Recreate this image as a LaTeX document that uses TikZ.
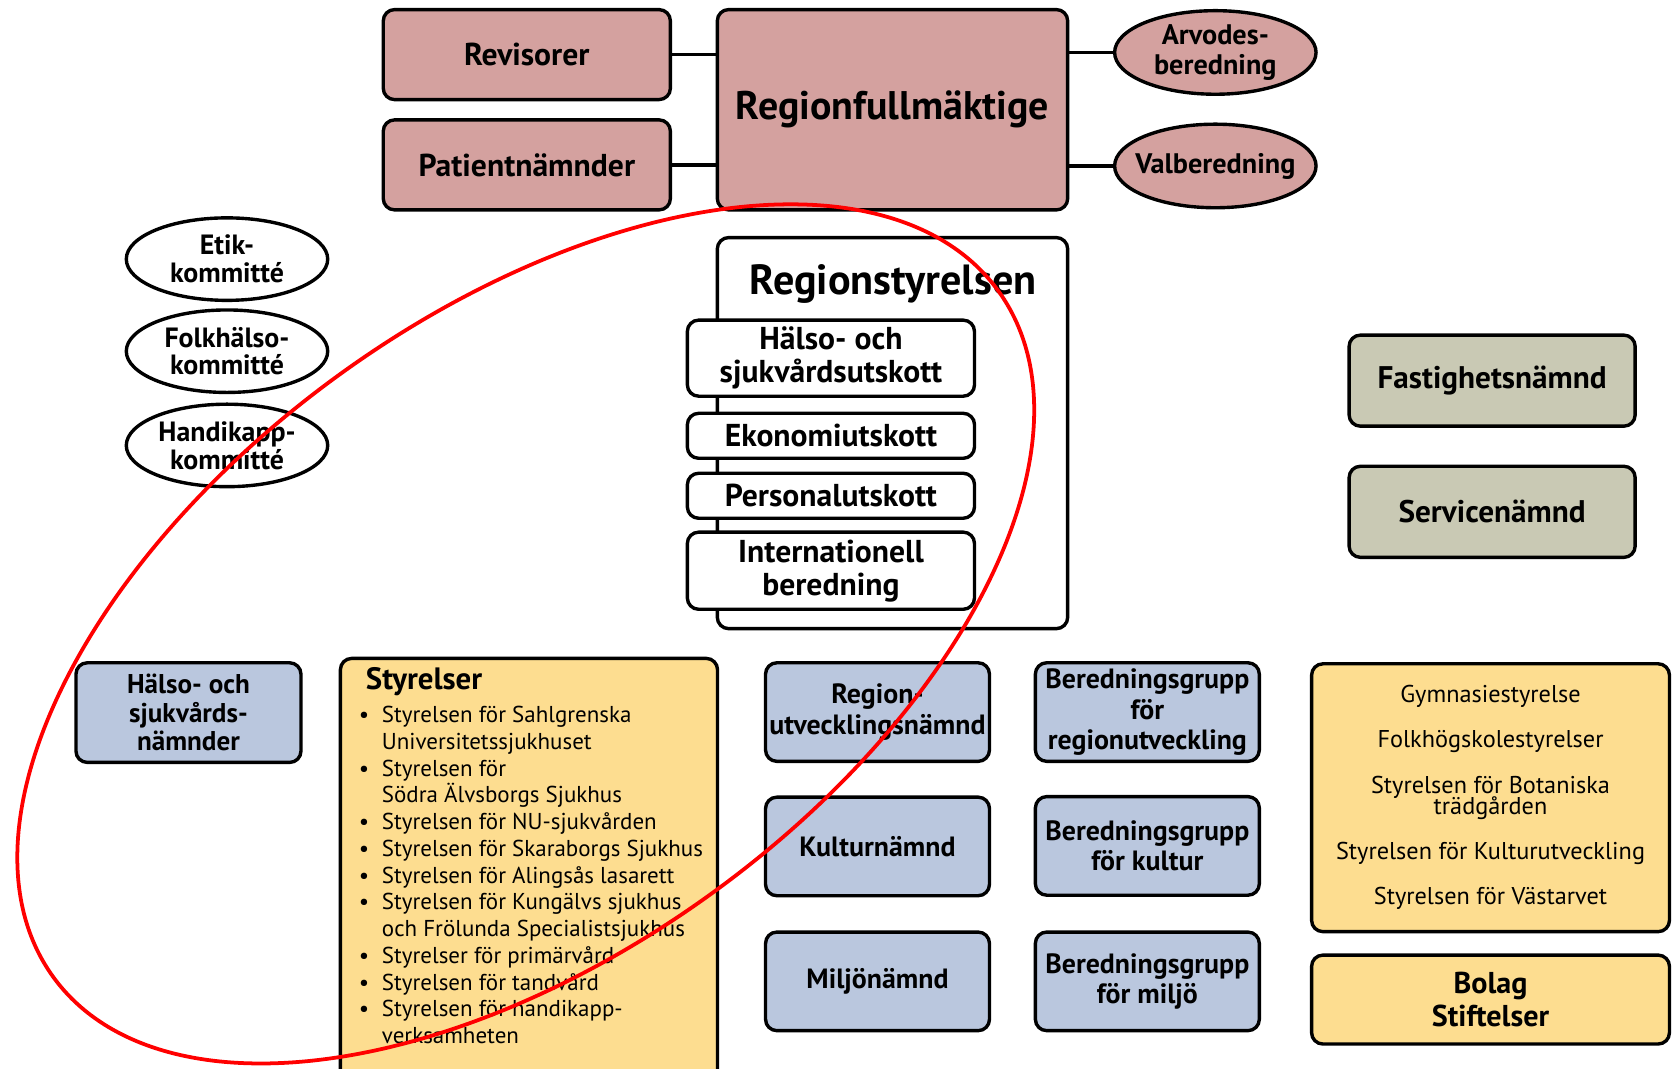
\documentclass[tikz,border=0pt]{standalone}
\usepackage{fontspec}
\setmainfont{PT Sans}
\usepackage{xcolor}
\usetikzlibrary{positioning,shapes.geometric}

\definecolor{pinkfill}{RGB}{212,161,159}
\definecolor{bluefill}{RGB}{186,199,222}
\definecolor{yellowfill}{RGB}{253,221,144}
\definecolor{greyfill}{RGB}{201,201,180}
\newcommand\tightlines{\lineskiplimit=-6pt\relax\lineskip=0pt\relax}

\begin{document}
\begin{tikzpicture}[
 x=0.01cm, y=-0.01cm,
 box/.style={rectangle, draw, line width=0.9pt, rounded corners=3pt, align=center, inner sep=0pt, font=\bfseries\fontsize{7.4}{8}\selectfont},
 pinkbox/.style={box, fill=pinkfill, minimum width=2.68cm, minimum height=0.84cm, font=\bfseries\fontsize{8.4}{9}\selectfont},
 oval/.style={ellipse, draw, line width=0.9pt, align=center, inner sep=0pt, minimum width=1.88cm, minimum height=0.78cm, font=\bfseries\fontsize{7.5}{8}\selectfont},
 subbox/.style={box, fill=white, minimum width=2.68cm, font=\bfseries\fontsize{8.4}{8.8}\selectfont},
 bluebox/.style={box, fill=bluefill, minimum width=2.09cm, minimum height=0.92cm},
 greybox/.style={box, fill=greyfill, minimum width=2.67cm, minimum height=0.85cm, font=\bfseries\fontsize{8.3}{9}\selectfont},
 yellowbox/.style={box, fill=yellowfill, minimum width=3.34cm},
 conn/.style={line width=0.9pt},
 ring/.style={draw=red, line width=1pt}
 ]
 \useasboundingbox (0,0) rectangle (1568,998);

 % Regionfullmaktige and its groups
 \node[pinkbox] (revisorer) at (492,51) {Revisorer};
 \node[pinkbox] (patient) at (492,154) {Patientnämnder};
 \node[pinkbox, minimum width=3.27cm, minimum height=1.87cm, font=\bfseries\fontsize{10.6}{12}\selectfont] (fullm) at (833.5,102.5) {Regionfullmäktige};
 \node[oval, fill=pinkfill] (arvodes) at (1135,49) {Arvodes-\\beredning};
 \node[oval, fill=pinkfill, inner xsep=-7pt] (valb) at (1135,155) {Valberedning};

 \draw[conn] (revisorer.east) -- (revisorer.east -| fullm.west);
 \draw[conn] (patient.east) -- (patient.east -| fullm.west);
 \draw[conn] (arvodes.west) -- (arvodes.west -| fullm.east);
 \draw[conn] (valb.west) -- (valb.west -| fullm.east);

 % Kommitteer
 \node[oval, fill=white, minimum height=0.77cm, font=\bfseries\fontsize{7.4}{7.4}\selectfont] (etik) at (212,242) {Etik-\\kommitté};
 \node[oval, fill=white, minimum height=0.77cm, font=\bfseries\fontsize{7.4}{7.4}\selectfont] (folk) at (212,328) {Folkhälso-\\kommitté};
 \node[oval, fill=white, minimum height=0.77cm, font=\bfseries\fontsize{7.4}{7.4}\selectfont] (handikapp) at (212,416) {Handikapp-\\kommitté};

 % Regionstyrelsen
 \node[box, fill=white, minimum width=3.27cm, minimum height=3.65cm] (rs) at (833.5,404.5) {};
 \node[font=\bfseries\fontsize{11.2}{12}\selectfont, inner sep=0pt] (rstitle) at (834,265) {Regionstyrelsen};
 \node[subbox, minimum height=0.71cm] (hsu) at (776,334.5) {Hälso- och\\sjukvårdsutskott};
 \node[subbox, minimum height=0.42cm] (eko) at (776,407) {Ekonomiutskott};
 \node[subbox, minimum height=0.42cm] (pers) at (776,463) {Personalutskott};
 \node[subbox, minimum height=0.72cm] (intl) at (776,533) {Internationell\\beredning};

 % Fastighet and service
 \node[greybox] (fast) at (1393.5,355.5) {Fastighetsnämnd};
 \node[greybox] (service) at (1393.5,478) {Servicenämnd};

 % Namnder
 \node[bluebox, minimum width=2.10cm, minimum height=0.93cm, font=\bfseries\fontsize{7.2}{7.6}\selectfont] (hsn) at (176,665.5) {Hälso- och\\sjukvårds-\\nämnder};
 \node[bluebox] (run) at (819.5,665) {Region-\\utvecklingsnämnd};
 \node[bluebox] (kultur) at (819.5,790.5) {Kulturnämnd};
 \node[bluebox] (miljo) at (819.5,916.5) {Miljönämnd};
 \node[bluebox] (bgru) at (1071.5,665) {Beredningsgrupp\\för\\regionutveckling};
 \node[bluebox] (bgkultur) at (1071.5,790) {Beredningsgrupp\\för kultur};
 \node[bluebox] (bgmiljo) at (1071.5,916.5) {Beredningsgrupp\\för miljö};

 % Styrelser
 \node[yellowbox, minimum width=3.52cm, minimum height=3.95cm] (styr) at (494,812.5) {};
 \node[anchor=west, inner sep=0pt, font=\bfseries\fontsize{8.2}{9}\selectfont] (styrtitle) at (341,637) {Styrelser};
 \node[anchor=north west, inner sep=0pt, align=left, font=\fontsize{6.1}{7.1}\selectfont] (styrlist) at (356,659) {%
 \llap{\textbullet\hspace{3.4pt}}Styrelsen för Sahlgrenska\\
 Universitetssjukhuset\\
 \llap{\textbullet\hspace{3.4pt}}Styrelsen för\\
 Södra Älvsborgs Sjukhus\\
 \llap{\textbullet\hspace{3.4pt}}Styrelsen för NU-sjukvården\\
 \llap{\textbullet\hspace{3.4pt}}Styrelsen för Skaraborgs Sjukhus\\
 \llap{\textbullet\hspace{3.4pt}}Styrelsen för Alingsås lasarett\\
 \llap{\textbullet\hspace{3.4pt}}Styrelsen för Kungälvs sjukhus\\
 och Frölunda Specialistsjukhus\\
 \llap{\textbullet\hspace{3.4pt}}Styrelser för primärvård\\
 \llap{\textbullet\hspace{3.4pt}}Styrelsen för tandvård\\
 \llap{\textbullet\hspace{3.4pt}}Styrelsen för handikapp-\\
 verksamheten};

 % Ovriga styrelser and bolag
 \node[yellowbox, minimum height=2.50cm, font={\fontsize{6.45}{5.7}\selectfont\tightlines}] (ovriga) at (1392,745) {%
 Gymnasiestyrelse\\[6.3pt]
 Folkhögskolestyrelser\\[6.3pt]
 Styrelsen för Botaniska\\
 trädgården\\[6.3pt]
 Styrelsen för Kulturutveckling\\[6.3pt]
 Styrelsen för Västarvet};
 \node[yellowbox, minimum height=0.83cm, font=\bfseries\fontsize{8}{9}\selectfont] (bolag) at (1392,933.5) {Bolag\\Stiftelser};

 % Red ring
 \draw[ring, rotate around={36:(491,592)}] (491,592) ellipse [x radius=5.45cm, y radius=2.98cm];
\end{tikzpicture}
\end{document}
